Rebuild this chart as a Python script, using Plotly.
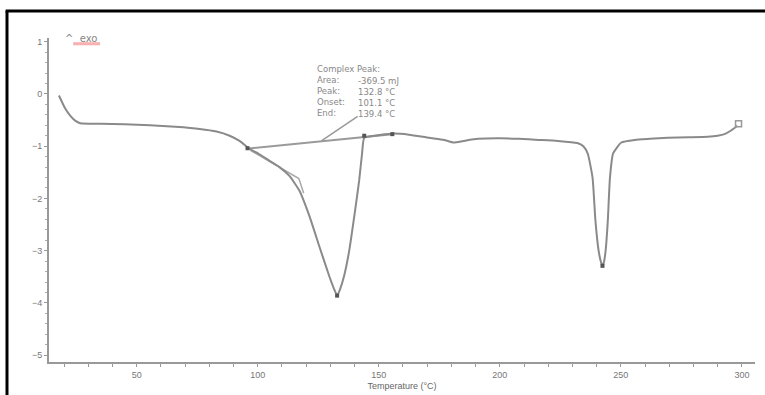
import plotly.graph_objects as go

# DSC curve (Temperature °C, heat flow)
temp = [17.9, 20.5, 22.8, 24.6, 26.7, 35, 45, 55.5, 66, 76, 83, 88.4, 92.5, 96.6,
        100.5, 104.9, 109, 113.1, 117.2, 121.3, 125.4, 129.5, 131.6, 132.8, 134.0,
        135.7, 137.8, 140.2, 141.9, 143.1, 144.0, 148.1, 155.5, 162.5, 170.7, 177,
        181, 185, 191, 200, 207.7, 216, 224, 232, 234.5, 236.3, 238.3, 239.5, 240.8,
        241.8, 242.4, 243.0, 243.7, 244.6, 245.5, 246.8, 250.2, 255.8, 262, 269.4,
        278, 285.9, 290, 292.8, 295.5, 298.2]
heat = [-0.03, -0.28, -0.43, -0.51, -0.56, -0.57, -0.58, -0.60, -0.63, -0.67, -0.72,
        -0.80, -0.90, -1.05, -1.15, -1.28, -1.40, -1.57, -1.85, -2.33, -2.91, -3.48,
        -3.74, -3.86, -3.74, -3.48, -3.00, -2.24, -1.66, -1.14, -0.84, -0.80, -0.76,
        -0.78, -0.84, -0.88, -0.93, -0.90, -0.86, -0.85, -0.86, -0.88, -0.90, -0.94,
        -1.00, -1.14, -1.60, -2.43, -3.00, -3.22, -3.29, -3.22, -3.00, -2.43, -1.60,
        -1.14, -0.93, -0.88, -0.86, -0.84, -0.83, -0.82, -0.80, -0.77, -0.70, -0.61]

# integration baseline and onset tangent
base_t = [95.3, 155.6]
base_y = [-1.05, -0.77]
tang_t = [97.0, 117.0, 119.0]
tang_y = [-1.08, -1.62, -1.90]

# marked points
mark_t = [95.8, 132.8, 144.0, 155.6, 242.4]
mark_y = [-1.04, -3.86, -0.80, -0.77, -3.29]
end_t = [298.6]
end_y = [-0.57]

y_ticks = [1, 0, -1, -2, -3, -4, -5]
x_ticks = [50, 100, 150, 200, 250, 300]

peak_labels = ["Complex Peak:", "Area:", "Peak:", "Onset:", "End:"]
peak_values = ["-369.5 mJ", "132.8 °C", "101.1 °C", "139.4 °C"]

grey = "#8a8a8a"
fnt = "Liberation Sans"
afnt = "DejaVu Sans"

fig = go.Figure()
fig.add_trace(go.Scatter(x=base_t, y=base_y, mode="lines",
                         line=dict(color="#9a9a9a", width=2), hoverinfo="skip"))
fig.add_trace(go.Scatter(x=tang_t, y=tang_y, mode="lines",
                         line=dict(color="#a8a8a8", width=1.5), hoverinfo="skip"))
fig.add_trace(go.Scatter(x=temp, y=heat, mode="lines",
                         line=dict(color=grey, width=2, shape="spline", smoothing=0.5)))
fig.add_trace(go.Scatter(x=mark_t, y=mark_y, mode="markers",
                         marker=dict(symbol="square", size=4, color="#555555")))
fig.add_trace(go.Scatter(x=end_t, y=end_y, mode="markers",
                         marker=dict(symbol="square-open", size=6, color="#999999",
                                     line=dict(width=1.5))))

fig.update_xaxes(range=[13.8, 305.4], showgrid=False, zeroline=False, automargin=False,
                 showline=True, linecolor="#999999", linewidth=2,
                 tickvals=x_ticks, ticks="outside", ticklen=3, tickcolor="#999999",
                 minor=dict(dtick=10, tick0=0, ticks="outside", ticklen=3, tickcolor="#999999"),
                 tickfont=dict(family=fnt, size=9, color="#777777"),
                 title=dict(text="Temperature (°C)", standoff=4,
                            font=dict(family=fnt, size=9, color="#666666")))
fig.update_yaxes(range=[-5.13, 1.07], showgrid=False, zeroline=False, automargin=False,
                 showline=True, linecolor="#999999", linewidth=2,
                 tickvals=y_ticks, ticks="outside", ticklen=3, tickcolor="#999999",
                 minor=dict(dtick=0.2, ticks="outside", ticklen=2, tickcolor="#aaaaaa"),
                 tickfont=dict(family=fnt, size=9, color="#777777"))

# annotation box
fig.add_annotation(x=123.8, y=0.61, xref="x", yref="y", text="<br>".join(peak_labels),
                   showarrow=False, xanchor="left", yanchor="top", align="left",
                   font=dict(family=afnt, size=8.5, color="#888888"))
fig.add_annotation(x=140.6, y=0.39, xref="x", yref="y", text="<br>".join(peak_values),
                   showarrow=False, xanchor="left", yanchor="top", align="left",
                   font=dict(family=afnt, size=8.5, color="#888888"))
fig.add_annotation(x=126.3, y=-0.9, ax=141.9, ay=-0.41, axref="x", ayref="y",
                   xref="x", yref="y", text="", showarrow=True, arrowhead=0,
                   arrowwidth=1.5, arrowcolor="#999999")
# exo marker
fig.add_annotation(x=19.5, y=1.07, xref="x", yref="y", text="^  exo", showarrow=False,
                   xanchor="left", yanchor="middle",
                   font=dict(family=afnt, size=10, color="#888888"))
fig.add_shape(type="rect", xref="x", yref="y", x0=23.8, x1=34.9, y0=0.93, y1=0.99,
              fillcolor="rgba(240,80,80,0.45)", line=dict(width=0))
# outer frame (left and top edges of the surrounding box)
fig.add_shape(type="line", xref="paper", yref="paper", x0=-0.0595, x1=-0.0595,
              y0=-0.11, y1=1.083, line=dict(color="black", width=3))
fig.add_shape(type="line", xref="paper", yref="paper", x0=-0.0615, x1=1.0142,
              y0=1.083, y1=1.083, line=dict(color="black", width=3))

fig.update_layout(width=765, height=395, showlegend=False, hovermode=False,
                  dragmode=False, paper_bgcolor="white", plot_bgcolor="white",
                  margin=dict(l=49, r=10, t=38, b=33))
fig.write_html("out.html", config={"displayModeBar": False, "staticPlot": True},
               post_script="document.body.style.margin='0';document.body.style.overflow='hidden';")
